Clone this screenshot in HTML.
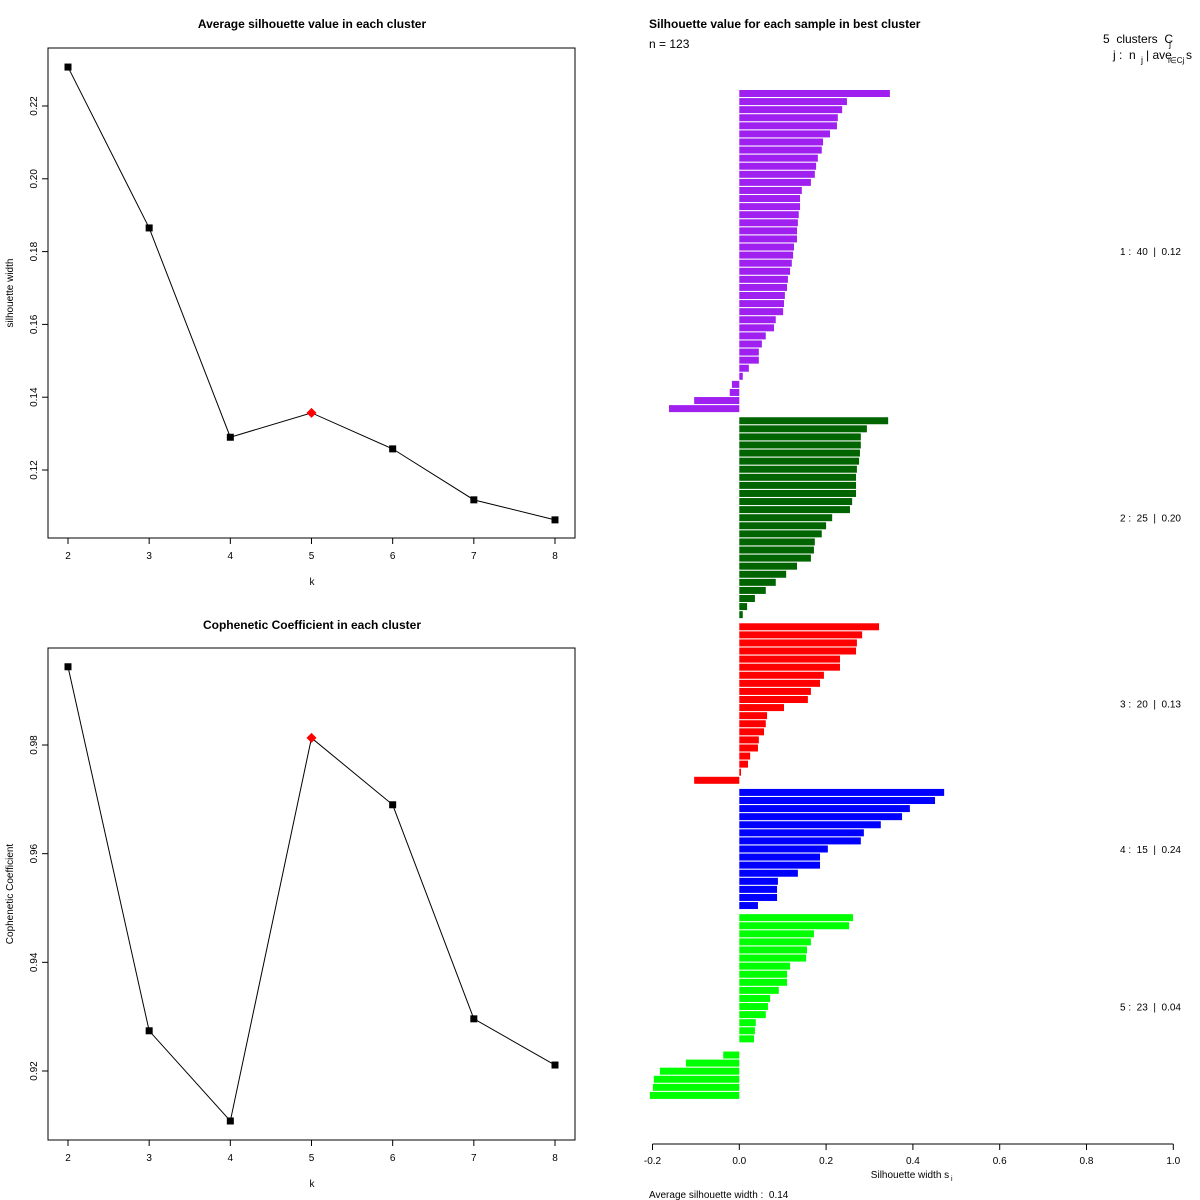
<!DOCTYPE html>
<html><head><meta charset="utf-8"><style>
body{margin:0;background:#fff}
svg{display:block;font-family:"Liberation Sans",sans-serif}
text{white-space:pre}
</style></head><body>
<svg id="c" width="1200" height="1200" xmlns="http://www.w3.org/2000/svg"></svg>
<script>
const ks=[2,3,4,5,6,7,8];
const silAvg=[0.2307,0.1865,0.1290,0.1357,0.1258,0.1118,0.1063];
const silTicks=[0.12,0.14,0.16,0.18,0.20,0.22];
const coph=[0.9944,0.9274,0.9108,0.9813,0.9690,0.9296,0.9211];
const cophTicks=[0.92,0.94,0.96,0.98];
const bestK=5;
const clusterNames=["1","2","3","4","5"];
const clusterAvg=["0.12","0.20","0.13","0.24","0.04"];
const clusterColors=["#A020F0","#006400","#FF0000","#0000FF","#00FF00"];
const c1=[0.347,0.248,0.237,0.227,0.225,0.209,0.193,0.190,0.181,0.177,0.174,0.165,0.144,0.140,0.140,0.137,0.135,0.133,0.133,0.126,0.124,0.121,0.117,0.112,0.110,0.105,0.103,0.101,0.084,0.080,0.061,0.052,0.045,0.045,0.022,0.008,-0.017,-0.022,-0.104,-0.162];
const c2=[0.343,0.294,0.280,0.280,0.278,0.276,0.271,0.269,0.269,0.269,0.260,0.255,0.214,0.200,0.190,0.174,0.172,0.165,0.133,0.108,0.084,0.061,0.036,0.018,0.008];
const c3=[0.322,0.283,0.271,0.269,0.232,0.232,0.195,0.186,0.165,0.158,0.103,0.064,0.061,0.057,0.045,0.043,0.025,0.020,0.004,-0.104];
const c4=[0.472,0.451,0.393,0.375,0.326,0.287,0.280,0.204,0.186,0.186,0.135,0.089,0.087,0.087,0.043];
const c5=[0.262,0.253,0.172,0.165,0.156,0.154,0.117,0.110,0.110,0.091,0.071,0.066,0.061,0.038,0.036,0.034,0.0,-0.037,-0.123,-0.183,-0.197,-0.199,-0.206];
const clusters=[c1,c2,c3,c4,c5];
const xTicks=[-0.2,0.0,0.2,0.4,0.6,0.8,1.0];

const svg=document.getElementById('c');
const NS='http://www.w3.org/2000/svg';
function el(tag,attrs,parent){const e=document.createElementNS(NS,tag);for(const k in attrs)e.setAttribute(k,attrs[k]);(parent||svg).appendChild(e);return e;}
function txt(s,attrs,parent){const e=el('text',attrs,parent);e.textContent=s;return e;}

function linePlot(name,vals,ticks,box,yMin,yMax,title,ylab){
  const g=el('g',{});
  
  
  const xs=k=>68+(k-2)*(555-68)/6;
  const ys=v=>box.yb-(v-yMin)/(yMax-yMin)*(box.yb-box.yt);
  const t=txt(title,{x:312,y:box.titleY,'font-size':12,'font-weight':'bold','text-anchor':'middle'},g);
  
  
  const r=el('rect',{x:48,y:box.top,width:527,height:box.bottom-box.top,fill:'none',stroke:'#000','stroke-width':1},g);
  
  
  ks.forEach(k=>{
    el('line',{x1:xs(k),x2:xs(k),y1:box.bottom,y2:box.bottom+6,stroke:'#000'},g);
    const l=txt(String(k),{x:xs(k),y:box.bottom+21,'font-size':10,'text-anchor':'middle'},g);
    
    
  });
  const xl=txt('k',{x:312,y:box.bottom+47,'font-size':10,'text-anchor':'middle'},g);
  
  
  ticks.forEach(v=>{
    const y=ys(v);
    el('line',{x1:42,x2:48,y1:y,y2:y,stroke:'#000'},g);
    const l=txt(v.toFixed(2),{x:37,y:y,'font-size':10,'text-anchor':'middle',transform:`rotate(-90 37 ${y})`},g);
    
    
  });
  const cy=(box.top+box.bottom)/2;
  const yl=txt(ylab,{x:13,y:cy,'font-size':10,'text-anchor':'middle',transform:`rotate(-90 13 ${cy})`},g);
  
  
  const pts=ks.map((k,i)=>xs(k)+','+ys(vals[i])).join(' ');
  const pl=el('polyline',{points:pts,fill:'none',stroke:'#000','stroke-width':1},g);
  
  
  ks.forEach((k,i)=>{
    const x=xs(k),y=ys(vals[i]);
    let m;
    if(k===bestK){m=el('polygon',{points:`${x},${y-5} ${x+5},${y} ${x},${y+5} ${x-5},${y}`,fill:'#f00'},g);
      }
    else{m=el('rect',{x:x-3.5,y:y-3.5,width:7,height:7,fill:'#000'},g);
      }
    
  });
}
linePlot('silhouette-plot',silAvg,silTicks,{top:48,bottom:538,yt:106,yb:470,titleY:28},0.12,0.22,'Average silhouette value in each cluster','silhouette width');
linePlot('cophenetic-plot',coph,cophTicks,{top:648,bottom:1140,yt:745,yb:1071,titleY:629},0.92,0.98,'Cophenetic Coefficient in each cluster','Cophenetic Coefficient');

const gs=el('g',{});


const bx=v=>739.3+v*434;
const pitch=8.08, bh=7, top0=90;
const tt=txt('Silhouette value for each sample in best cluster',{x:649,y:28,'font-size':12,'font-weight':'bold'},gs);


const nt=txt('n = '+clusters.reduce((a,c)=>a+c.length,0),{x:649,y:48,'font-size':12},gs);


const h1=txt('5  clusters  C',{x:1103,y:43,'font-size':12},gs);


txt('j',{x:1169,y:47,'font-size':9},gs);
const h2=txt('j :  n',{x:1113,y:59,'font-size':12},gs);


txt('j',{x:1141,y:63,'font-size':9},gs);
txt('| ave',{x:1146,y:59,'font-size':12},gs);
txt('i∈Cj',{x:1168,y:63,'font-size':8},gs);
txt('s',{x:1186,y:59,'font-size':12},gs);
let row=0;
clusters.forEach((c,ci)=>{
  const startRow=row;
  c.forEach((v,i)=>{
    const y=top0+row*pitch;
    const x0=Math.min(bx(0),bx(v)), w=Math.abs(bx(v)-bx(0));
    const r=el('rect',{x:x0,y:y,width:Math.max(w,0),height:bh,fill:clusterColors[ci]},gs);
    
    
    row++;
  });
  const midY=top0+((startRow+row-1)/2)*pitch+bh/2;
  const lab=txt(clusterNames[ci]+' :  '+c.length+'  |  '+clusterAvg[ci],{x:1120,y:midY+4,'font-size':10},gs);
  
  
  row+=0.5;
});
el('line',{x1:bx(-0.2),x2:bx(1.0),y1:1144,y2:1144,stroke:'#000'},gs);
xTicks.forEach(v=>{
  el('line',{x1:bx(v),x2:bx(v),y1:1144,y2:1150,stroke:'#000'},gs);
  const l=txt(v.toFixed(1),{x:bx(v),y:1164,'font-size':10,'text-anchor':'middle'},gs);
  
  
});
const xa=txt('Silhouette width s',{x:910,y:1178,'font-size':10,'text-anchor':'middle'},gs);


txt('i',{x:951,y:1181,'font-size':7},gs);
const av=txt('Average silhouette width :  0.14',{x:649,y:1198,'font-size':10},gs);


</script>
</body></html>
